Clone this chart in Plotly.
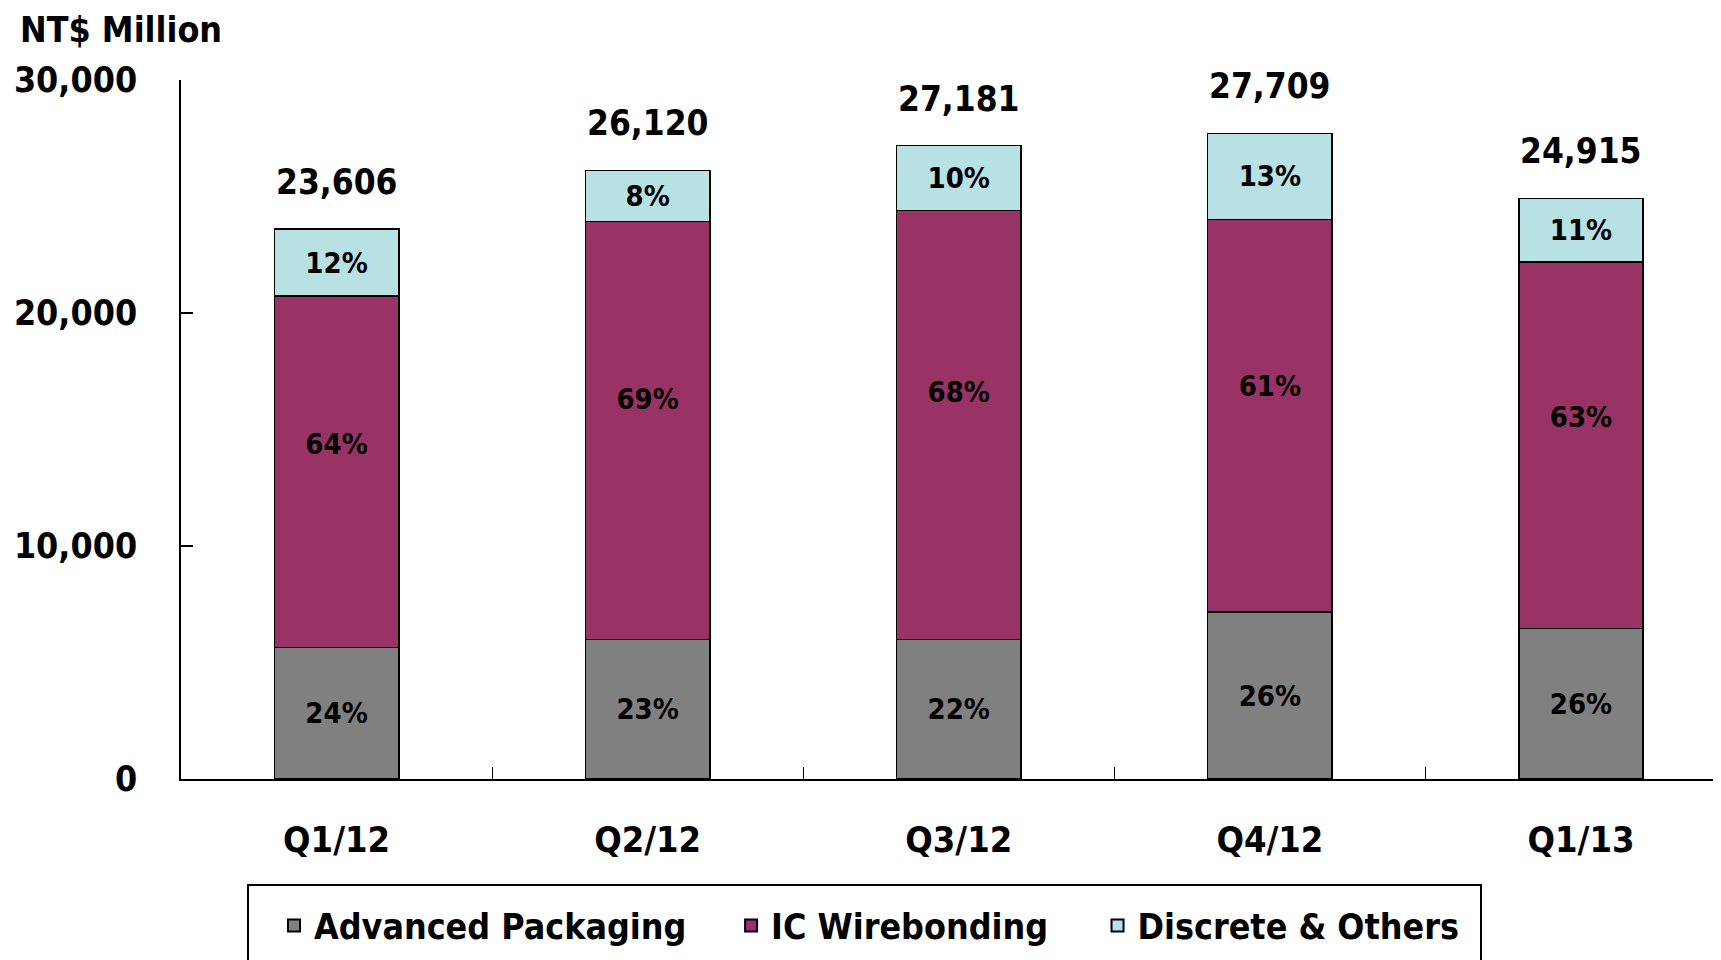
import plotly.graph_objects as go

quarters = ["Q1/12", "Q2/12", "Q3/12", "Q4/12", "Q1/13"]
advanced_packaging = [5650, 5980, 5980, 7160, 6450]
ic_wirebonding = [15070, 17940, 18420, 16860, 15730]
discrete_others = [2886, 2200, 2781, 3689, 2735]
totals = [23606, 26120, 27181, 27709, 24915]
ap_pct = ["24%", "23%", "22%", "26%", "26%"]
ic_pct = ["64%", "69%", "68%", "61%", "63%"]
do_pct = ["12%", "8%", "10%", "13%", "11%"]
series_names = ["Advanced Packaging", "IC Wirebonding", "Discrete & Others"]

FONT = "DejaVu Sans Condensed"
W, H = 1721, 960
L, T, R, B = 173, 72, 8, 189
PW, PH = W - L - R, H - T - B
NB = "\u00a0"

def px_x(fx):
    return (fx - L) / PW

def px_y(fy):
    return (H - B - fy) / PH

fig = go.Figure()
common = dict(width=0.4, marker_line_color="black", marker_line_width=1.5,
              textposition="inside", insidetextanchor="middle",
              textfont=dict(family=FONT, size=29, color="black", weight="bold"),
              constraintext="none", hoverinfo="skip")
fig.add_trace(go.Bar(x=quarters, y=advanced_packaging,
                     name=series_names[0] + NB * 3 + "\u2009",
                     marker_color="#808080", text=ap_pct, **common))
fig.add_trace(go.Bar(x=quarters, y=ic_wirebonding,
                     name=series_names[1] + NB * 4,
                     marker_color="#993366", text=[""] * 5, **common))
fig.add_trace(go.Bar(x=quarters, y=discrete_others, name=series_names[2],
                     marker_color="#B8E1E4", text=do_pct, **common))

# IC labels sit slightly above segment centre
ic_label_y = [a + 0.57 * b for a, b in zip(advanced_packaging, ic_wirebonding)]
fig.add_trace(go.Scatter(x=quarters, y=ic_label_y, mode="text", text=ic_pct,
                         textfont=dict(family=FONT, size=29, color="black", weight="bold"),
                         showlegend=False, hoverinfo="skip"))

for q, t in zip(quarters, totals):
    fig.add_annotation(x=q, y=t, text=f"{t:,}", showarrow=False, yshift=47,
                       font=dict(family=FONT, size=35, color="black", weight="bold"))

# legend frame
fig.add_shape(type="rect", xref="paper", yref="paper",
              x0=px_x(240), x1=px_x(1473), y0=px_y(877), y1=px_y(1000),
              line=dict(color="black", width=2), fillcolor="rgba(0,0,0,0)", layer="above")

fig.update_layout(
    width=W, height=H, barmode="stack", plot_bgcolor="white", paper_bgcolor="white",
    margin=dict(l=L, r=R, t=T, b=B, autoexpand=False),
    font=dict(family=FONT, color="black"),
    title=dict(text="<b>NT$ Million</b>", xref="container", yref="container",
               x=12 / W, xanchor="left", y=1 - 22 / H, yanchor="middle",
               font=dict(family=FONT, size=35.5, color="black")),
    legend=dict(orientation="h", xref="paper", x=px_x(266), xanchor="left",
                y=px_y(888), yanchor="top", borderwidth=0, bgcolor="rgba(0,0,0,0)",
                font=dict(family=FONT, size=35.5, color="black", weight="bold"),
                traceorder="normal", itemsizing="constant"),
    showlegend=True,
)
fig.update_xaxes(range=[-0.5, 4.45], showline=True, linecolor="black", linewidth=2,
                 ticks="inside", tickson="boundaries", ticklen=12, tickcolor="black",
                 tickwidth=1, showgrid=False, ticklabelstandoff=28,
                 tickfont=dict(family=FONT, size=36, color="black", weight="bold"))
fig.update_yaxes(range=[0, 30000], tickvals=[0, 10000, 20000, 30000],
                 ticktext=["0", "10,000", "20,000", "30,000"],
                 showline=True, linecolor="black", linewidth=1.5,
                 ticks="inside", ticklen=12, tickcolor="black", tickwidth=1.5,
                 showgrid=False, zeroline=False, ticklabelstandoff=35,
                 tickfont=dict(family=FONT, size=35.5, color="black", weight="bold"))

fig.write_html("out.html")
